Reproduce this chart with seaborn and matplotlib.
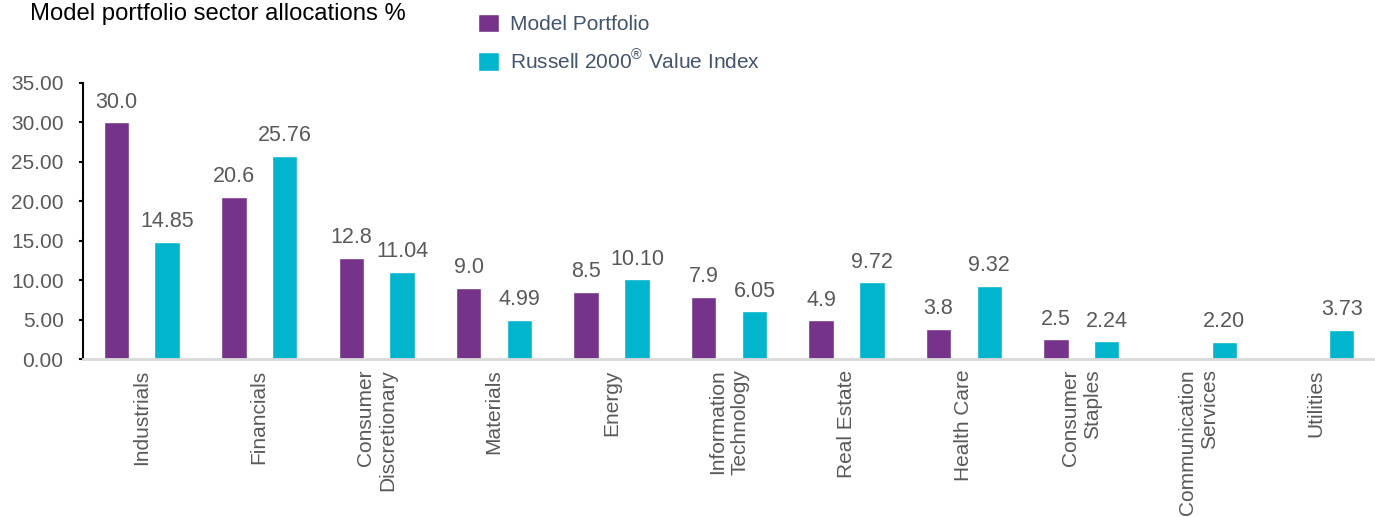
import pandas as pd
import numpy as np
import matplotlib.pyplot as plt
import seaborn as sns

# === Data ===
sectors = ["Industrials", "Financials", "Consumer\nDiscretionary", "Materials", "Energy",
           "Information\nTechnology", "Real Estate", "Health Care", "Consumer\nStaples",
           "Communication\nServices", "Utilities"]
model_portfolio = [30.0, 20.6, 12.8, 9.0, 8.5, 7.9, 4.9, 3.8, 2.5, np.nan, np.nan]
russell_value = [14.85, 25.76, 11.04, 4.99, 10.10, 6.05, 9.72, 9.32, 2.24, 2.20, 3.73]
series_names = ["Model Portfolio", "Russell 2000$^{\\mathregular{®}}$ Value Index"]
yticks = [0, 5, 10, 15, 20, 25, 30, 35]

# === Settings ===
sns.set_style("white")
plt.rcParams['font.family'] = ['Liberation Sans', 'DejaVu Sans']
palette = {series_names[0]: "#76338A", series_names[1]: "#00B5CC"}
grey = "#595959"

df = pd.DataFrame({
    "sector": sectors * 2,
    "value": model_portfolio + russell_value,
    "series": [series_names[0]] * len(sectors) + [series_names[1]] * len(sectors),
}).dropna()

fig = plt.figure(figsize=(13.75, 5.17), dpi=100)
ax = fig.add_axes([0.0604, 0.3056, 0.9396, 0.5339])

sns.barplot(data=df, x="sector", y="value", hue="series", order=sectors,
            hue_order=series_names, palette=palette, width=0.865, gap=0.5,
            saturation=1, ax=ax)

# value labels above bars
for cont, fmt in zip(ax.containers, ["%.1f", "%.2f"]):
    ax.bar_label(cont, fmt=fmt, padding=7, fontsize=15.5, color=grey)

ax.set_ylim(0, 35)
ax.set_xlim(-0.5, len(sectors) - 0.5)
ax.set_yticks(yticks)
ax.set_yticklabels([f"{t:.2f}" for t in yticks], fontsize=15, color=grey)
ax.tick_params(axis="y", left=True, length=3, width=1.5, color="black", pad=11)
ax.tick_params(axis="x", bottom=False, pad=4)
ax.set_xticks(range(len(sectors)))
ax.set_xticklabels(sectors, rotation=90, fontsize=15, color=grey,
                   ha="center", va="top", multialignment="right")
ax.set_xlabel("")
ax.set_ylabel("")

for side in ["top", "right"]:
    ax.spines[side].set_visible(False)
ax.spines["left"].set_color("black")
ax.spines["left"].set_linewidth(1.5)
ax.spines["bottom"].set_color("#D9D9D9")
ax.spines["bottom"].set_linewidth(2)

# legend at the top
handles, labels = ax.get_legend_handles_labels()
ax.get_legend().remove()
fig.legend(handles, labels, loc="upper left", bbox_to_anchor=(0.334, 1.01),
           frameon=False, fontsize=15, handlelength=1.0, handleheight=1.0,
           handletextpad=0.55, labelspacing=0.7, labelcolor="#44546A")

fig.text(0.022, 0.972, "Model portfolio sector allocations %", fontsize=17.2,
         color="black", ha="left", va="center")

fig.savefig("out.png", dpi=100)
